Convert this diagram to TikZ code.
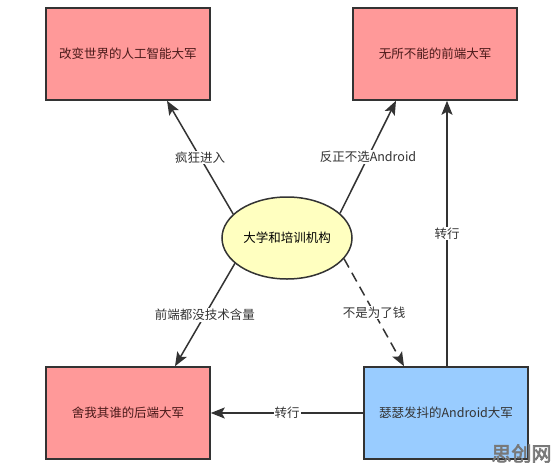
\documentclass[tikz,border=0pt]{standalone}
\usepackage{fontspec}
\usepackage{tikz}
\usetikzlibrary{arrows.meta,shapes.geometric}
\newfontfamily\cjk[AutoFakeBold=3]{Noto Sans CJK SC}
\definecolor{boxred}{HTML}{FF9999}
\definecolor{boxblue}{HTML}{99CCFF}
\definecolor{ovalyellow}{HTML}{FFFFC0}
\definecolor{edge}{HTML}{333333}
\definecolor{redtext}{HTML}{4A1A1A}
\definecolor{markgray}{HTML}{787878}
\tikzset{
	army/.style={draw=edge, line width=1.5pt, minimum width=164pt, minimum height=92pt, inner sep=0pt, font=\cjk\fontsize{12.5}{14}\selectfont},
	flow/.style={draw=edge, line width=1.5pt, -{Stealth[length=14pt,width=11pt,inset=3pt]}},
	tag/.style={fill=white, inner sep=1pt, text=edge, font=\cjk\fontsize{12.5}{14}\selectfont}
}
\begin{document}
\begin{tikzpicture}[x=1pt, y=-1pt]
		\useasboundingbox[fill=white] (0, 0) rectangle (558, 472);
		\node[army, fill=boxred, text=redtext] (ai) at (128, 54) {改变世界的人工智能大军};
        \node[army, fill=boxred, text=redtext] (web) at (435, 54) {无所不能的前端大军};
        \node[army, fill=boxred, text=redtext] (back) at (128, 413) {舍我其谁的后端大军};
        \node[army, fill=boxblue, text=edge] (droid) at (446, 413) {瑟瑟发抖的Android大军};
        \node[ellipse, draw=edge, line width=1.5pt, fill=ovalyellow, minimum width=130pt, minimum height=82pt, inner sep=0pt, font=\cjk\fontsize{12.5}{14}\selectfont] (uni) at (287, 238) {大学和培训机构};
        \draw[flow] (uni.156) -- ([xshift=39pt]ai.south) node[tag, midway] {疯狂进入};
        \draw[flow] (uni.25) -- ([xshift=-39pt]web.south) node[tag, midway] {反正不选Android};
        \draw[flow] (uni.206) -- ([xshift=47pt]back.north) node[tag, midway] {前端都没技术含量};
        \draw[flow, dash pattern=on 10pt off 6pt] (uni.340) -- ([xshift=-42pt]droid.north) node[tag, midway] {不是为了钱};
        \draw[flow] ([xshift=1pt]droid.north) -- ([xshift=12pt]web.south) node[tag, midway] {转行};
        \draw[flow] (droid.west) -- (back.east) node[tag, midway] {转行};
        \node[inner sep=0pt, text=markgray, font=\fontsize{20}{22}\cjk\bfseries\selectfont] (mark) at (521.5, 453.5) {思创网};
	\end{tikzpicture}
\end{document}
